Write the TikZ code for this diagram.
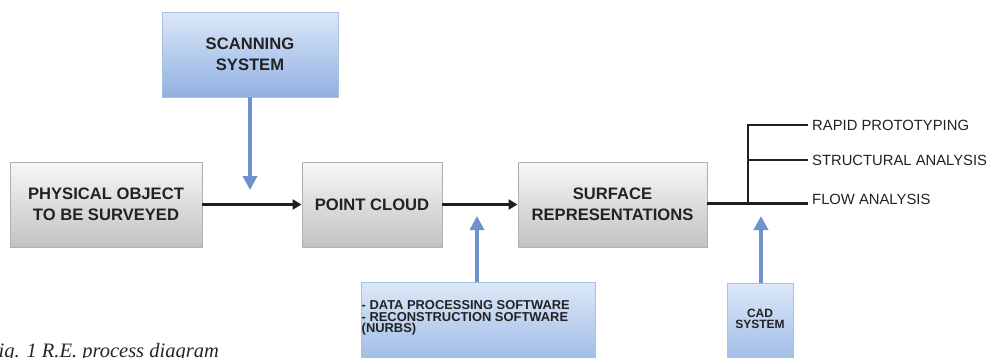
\documentclass[tikz,border=0pt]{standalone}
\usepackage{fontspec}
\setmainfont{Liberation Sans}
\newfontfamily\capfont{Liberation Serif}
\usetikzlibrary{arrows.meta,shadows}

\definecolor{boxedge}{HTML}{B0B0B0}
\definecolor{greytop}{HTML}{F7F7F7}
\definecolor{greybot}{HTML}{C2C2C2}
\definecolor{bluetop}{HTML}{DCE8F8}
\definecolor{bluebot}{HTML}{90B0E2}
\definecolor{blueedge}{HTML}{A9C0DF}
\definecolor{bluearrow}{HTML}{6E92CC}
\definecolor{txt}{HTML}{222222}

\tikzset{
  softshadow/.style={drop shadow={shadow xshift=1.2pt, shadow yshift=-1.4pt, fill=black, opacity=0.18}},
  greybox/.style={draw=boxedge, line width=0.9pt, top color=greytop, bottom color=greybot,
    softshadow, align=center, text=txt, inner sep=0pt,
    font=\bfseries\fontsize{16.6}{20.5}\selectfont},
  bluebox/.style={draw=blueedge, line width=0.9pt, top color=bluetop, bottom color=bluebot,
    softshadow, align=center, text=txt, inner sep=0pt,
    font=\bfseries\fontsize{16.6}{20.5}\selectfont},
  smalltext/.style={text=txt, inner sep=0pt, font=\bfseries\fontsize{12.9}{11.6}\selectfont},
  flowarrow/.style={draw=black!88, line width=2.3pt, -{Triangle[length=9pt,width=10pt]}},
  feedarrow/.style={draw=bluearrow, line width=3.6pt, -{Triangle[length=14pt,width=14pt]}},
  flowline/.style={draw=black!88, line width=2.3pt},
  outlabel/.style={anchor=west, text=txt, inner sep=0pt, font=\fontsize{14.8}{16}\selectfont},
}

\begin{document}
\begin{tikzpicture}[x=1pt,y=-1pt]
  \useasboundingbox (0,0) rectangle (998,357);
  \fill[white] (0,0) rectangle (998,357);
  \clip (0,0) rectangle (998,357);

  % main process chain
  \node[greybox, minimum width=192pt, minimum height=85pt] (phys) at (106,204.5)
    {PHYSICAL OBJECT\\TO BE SURVEYED};
  \node[greybox, minimum width=140pt, minimum height=85pt] (cloud) at (372,204.5)
    {POINT CLOUD};
  \node[greybox, minimum width=189pt, minimum height=85pt] (surf) at (612.5,204.5)
    {SURFACE\\REPRESENTATIONS};

  % inputs
  \node[bluebox, minimum width=176pt, minimum height=85pt] (scan) at (250,54.5)
    {SCANNING\\SYSTEM};
  \node[bluebox, minimum width=234pt, minimum height=100pt] (soft) at (478,332) {};
  \node[smalltext, anchor=west, align=left] (softtxt) at (361.5,318)
    {- DATA PROCESSING SOFTWARE\\- RECONSTRUCTION SOFTWARE\\(NURBS)};
  \node[bluebox, minimum width=66pt, minimum height=100pt] (cad) at (760,333) {};
  \node[smalltext, align=center, font=\bfseries\fontsize{12}{11}\selectfont] (cadtxt) at (760,318.5)
    {CAD\\SYSTEM};

  % connectors of the chain
  \draw[flowarrow] (phys.east) -- (cloud.west);
  \draw[flowarrow] (cloud.east) -- (surf.west);

  % input arrows
  \coordinate (scantip) at (250,190);
  \coordinate (softtip) at (477,216);
  \coordinate (cadtip) at (761,216);
  \draw[feedarrow] (scan.south) -- (scantip);
  \draw[feedarrow] (soft.north -| softtip) -- (softtip);
  \draw[feedarrow] (cad.north -| cadtip) -- (cadtip);

  % output branches
  \coordinate (fork) at (748,203.5);
  \coordinate (rapidend) at (808,125);
  \coordinate (structend) at (808,160);
  \coordinate (flowend) at (808,203.5);
  \draw[flowline] (surf.east |- flowend) -- (flowend);
  \draw[flowline] (fork) |- (rapidend);
  \draw[flowline] (fork |- structend) -- (structend);
  \node[outlabel] (rapid) at ([xshift=4pt]rapidend) {RAPID PROTOTYPING};
  \node[outlabel] (struct) at ([xshift=4pt]structend) {STRUCTURAL ANALYSIS};
  \node[outlabel] (flow) at ([xshift=4pt,yshift=4pt]flowend) {FLOW ANALYSIS};

  % caption
  \node[anchor=base east, inner sep=0pt, text=black!85,
        font=\capfont\itshape\fontsize{20.5}{22}\selectfont] (caption) at (219,357)
    {Fig. 1 R.E. process diagram};
\end{tikzpicture}
\end{document}
